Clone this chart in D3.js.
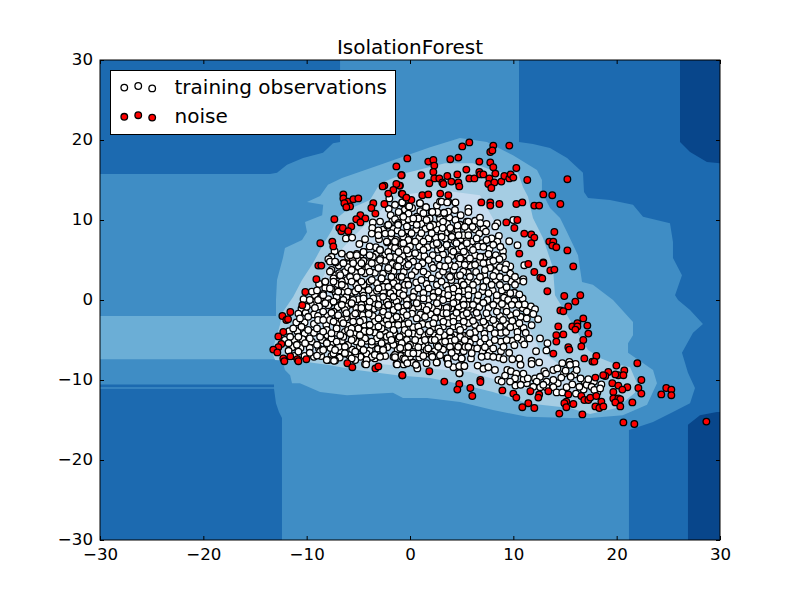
<!DOCTYPE html>
<html><head><meta charset="utf-8">
<script src="https://cdn.jsdelivr.net/npm/d3@7"></script>
<style>html,body{margin:0;padding:0;background:#fff}text{font-family:"DejaVu Sans",sans-serif}</style>
</head><body><svg id="c" width="800" height="600"></svg>
<script>
const titleText="IsolationForest";
const legendLabels=["training observations","noise"];
const xTicks=[-30,-20,-10,0,10,20,30];
const yTicks=[-30,-20,-10,0,10,20,30];
const levelColors=["#3f8dc5","#1c6ab0","#08468b","#6baed6","#a5cde3","#c6dcef"];

const levelTwoTopLeft=[[-30,30],[-6.77,30],[-6.77,19.75],[-7.45,19.6],[-8.42,18.4],[-10.35,17.75],[-11.9,16.9],[-12.87,15.9],[-13.55,15.75],[-30,15.75]];
const levelTwoRight=[[10.55,30],[10.55,19.75],[11.9,19.5],[13.55,19],[15.2,17.75],[16.74,15.9],[16.84,13.5],[17.23,12.75],[19.35,12.5],[21.58,11.9],[22.55,10.4],[25.16,9.6],[25.45,7.25],[25.45,5.25],[26.32,3.1],[25.65,.6],[25.94,0],[27.1,-1.25],[28.35,-3],[27.39,-4.1],[26.32,-6.6],[26.9,-9.1],[27.58,-11],[27.1,-12.9],[25.45,-14],[23.52,-15.25],[21.19,-16.25],[21.19,-30],[30,-30],[30,30]];
const levelTwoBottomLeft=[[-30,-11.1],[-13.16,-11.1],[-12.97,-12.9],[-12.68,-14],[-12.39,-14.75],[-12.39,-30],[-30,-30]];
const levelTwoStrip=[[-30,-10.55],[-13.16,-10.55],[-13.16,-10.9],[-30,-10.9]];
const levelOneTop=[[26.13,30],[26.13,19.75],[27.1,18.5],[28.74,17.25],[30,17.1],[30,30]];
const levelOneBottom=[[26.9,-30],[26.9,-15.6],[28.06,-14.4],[29.7,-14],[30,-14],[30,-30]];
const levelFour=[[-30,-2],[-12.97,-2],[-12.97,0],[-12.87,2.5],[-12.3,5.25],[-12.1,6.5],[-10.45,7.5],[-9.97,8.5],[-10.16,9.75],[-8.5,10.6],[-8.4,11.9],[-9.97,12.25],[-8.7,13],[-7.94,14.4],[-6.58,15.25],[-3.58,16.6],[-.68,17.9],[1.94,19.1],[4.84,20.25],[7.45,19.75],[9.97,18.1],[12.29,16.25],[12.77,15],[12.77,13.5],[13.55,11.5],[14.52,10.25],[15.19,8.5],[16.26,5.6],[16.65,2.25],[17.7,1.9],[19.65,0],[21.58,-2.75],[21.58,-4.4],[21.1,-5.4],[21.1,-6.6],[23.52,-8.75],[23.9,-10.4],[22.94,-13.1],[20.6,-14.4],[17.4,-14.75],[15.48,-14.75],[11.32,-14.6],[8.03,-13.75],[4.84,-12.75],[1.65,-12.25],[-.68,-12.25],[-1.65,-11.6],[-6.1,-11.9],[-8.7,-11.5],[-10.65,-10.4],[-11.42,-10.4],[-11.6,-9.4],[-12.1,-8.75],[-12.39,-7.4],[-30,-7.4]];
const levelFive=[[-13.35,-6.5],[-12.58,-3.1],[-12.3,-1.5],[-11.3,.4],[-10.45,2.5],[-9.39,4.6],[-8.42,6.9],[-7.55,8.75],[-7.06,10.25],[-6.1,11.25],[-3.87,12.5],[-2.9,14.6],[-.29,15.9],[3.39,17.1],[6.1,17.1],[8.42,16],[10.45,15.9],[10.94,14.1],[11.42,12.9],[11.9,10.25],[12.87,7.75],[13.84,4],[14.03,.6],[15.48,-2.5],[17.23,-6.25],[18.39,-7.25],[19.65,-7.9],[21.3,-8.4],[21.97,-10.4],[21.77,-11.6],[20,-13.5],[17.42,-14.25],[15.48,-13.5],[11.32,-12.9],[8.03,-11.5],[4.84,-10.5],[1.94,-9.75],[-1.26,-9.4],[-5.13,-8.75],[-8.03,-8.1],[-9.97,-7.75],[-13.06,-7.5]];
const levelSix=[[-12.1,-5.6],[-11.13,-2.5],[-9.19,.6],[-7.74,4.75],[-5.8,7.5],[-3.39,10.6],[-.97,13.1],[2.9,13.75],[6.77,13.1],[9.19,7.5],[9.68,1.25],[12.58,-6.25],[16.45,-10],[15.97,-11.9],[11.61,-11.25],[5.81,-9],[-.97,-8.25],[-8.71,-7.25]];

const trainingLeft=[[-2,12.7],[-.74,12.2],[-1.45,11.9],[-.16,11.75],[-2.06,11.4],[-1.87,10.6],[-.65,10.5],[-3.6,9.7],[-2.2,9.3],[-1.45,10.1],[-1.13,9.6],[-.16,10.1],[-3.65,9],[-3.06,8.7],[-3.7,8.3],[-3.06,8.1],[-2.4,8.3],[-1.8,7.9],[-1.2,8.7],[-.65,7.9],[-1.35,7.5],[-2.2,7.2],[-.8,7],[-.16,7.5],[-6.2,7.7],[-5.6,7.8],[-4.35,7.6],[-4.9,7],[-3.9,6.7],[-1.45,6.5],[-2.9,6.3],[-2.1,6],[-.65,6.3],[-7.3,6.1],[-7.6,5.4],[-7.9,5.1],[-5.75,5.6],[-5.15,5.75],[-4.5,6],[-6,5.4],[-3.6,5.4],[-2.85,5.2],[-1.45,5.4],[-.15,5.8],[-7.2,4.7],[-6.45,4.6],[-5.55,4.9],[-4.5,4.9],[-2.4,4.9],[-1,5],[-7.6,3.75],[-6.85,3.35],[-6,4.1],[-5,4.2],[-4.05,4.1],[-3.3,4.5],[-2.1,3.75],[-1.3,4.25],[-.3,4.2],[-8.2,2.3],[-7.4,2.7],[-6.6,2.3],[-5.8,2.9],[-5.15,2.85],[-4.35,3.35],[-3.4,3.4],[-2.75,2.7],[-1,2.9],[-7.6,1.35],[-6.3,1.65],[-5.3,1.05],[-4.5,1.9],[-3.9,2.3],[-2.6,1.65],[-1.6,2.1],[-.5,1.9],[-9.5,1.05],[-9,1.2],[-8.4,.75],[-7.1,.4],[-6.15,.4],[-4.5,.55],[-3.2,1.15],[-1.9,.85],[-1,.85],[-9.7,0],[-8.9,0],[-7.75,-.4],[-6.6,-.4],[-5.65,-.5],[-4.7,-.6],[-3.4,-.4],[-2.25,-.2],[-1.3,-.2],[-.3,0],[-10,-.85],[-9.2,-1],[-8.4,-1.45],[-7.4,-1.45],[-6.3,-1.25],[-5.15,-1.65],[-4,-1.45],[-2.6,-1.45],[-1.6,-1.25],[-.65,-1.45],[-10.8,-1.7],[-10.65,-2.3],[-9.85,-2.1],[-8.9,-2.5],[-7.75,-2.5],[-6.6,-2.5],[-5.5,-2.7],[-4.5,-2.5],[-3.4,-2.7],[-2.25,-2.5],[-1.1,-2.5],[-11.3,-3.55],[-10.5,-3.35],[-9.85,-3.75],[-9,-3.55],[-8.05,-3.75],[-7.1,-3.55],[-6,-3.75],[-5,-3.55],[-3.9,-3.95],[-2.75,-3.55],[-1.6,-3.75],[-.5,-3.75],[-11.6,-4.6],[-10.8,-4.6],[-9.7,-4.8],[-8.7,-4.6],[-7.6,-4.8],[-6.45,-4.6],[-5.5,-4.8],[-4.35,-4.8],[-3.2,-4.8],[-2.25,-4.6],[-1.1,-4.8],[-11.75,-5.4],[-10.95,-5.6],[-10.15,-5.4],[-9,-5.6],[-8.05,-5.4],[-6.9,-5.85],[-6,-5.6],[-4.85,-5.85],[-3.7,-5.6],[-2.6,-6],[-1.6,-5.6],[-.5,-5.85],[-11.75,-6.35],[-10.8,-6.45],[-9.7,-6.6],[-8.7,-6.45],[-7.4,-6.7],[-6.3,-6.7],[-5.3,-6.9],[-4.2,-6.7],[-3.05,-6.9],[-1.6,-7.1],[-.65,-7.3],[-9,-6.95],[-7.9,-7.5],[-7.25,-7.55],[-5.3,-7.5],[-4.2,-7.5],[-4.35,-8],[-3.7,-7.1],[-1.3,-8],[-.6,-8.05]];
const trainingCoreUpper=[[-7.75,4.8],[-7.25,4.8],[-6.45,4.6],[-5.8,5.6],[-5.15,5.6],[-4.5,6],[-3.9,5.6],[-2.9,6.25],[-5.5,4.6],[-4.7,4.6],[-3.7,4.6],[-2.9,5],[-1.95,5.4],[-1.1,6],[-.3,6.25],[.5,5.85],[1.3,6.25],[2.25,6.9],[3.05,6.45],[4,6.25],[5,6.65],[-2.25,7.3],[-1.45,7.3],[-.65,7.1],[.5,7.3],[1.3,7.3],[2.75,6.9],[3.4,7.7],[4.35,7.3],[5.5,7.5],[-2.1,9.4],[-1.15,9.4],[-.3,9.2],[.65,9.4],[1.6,10],[2.25,9.4],[3.2,9.8],[4,8.75],[4.85,9.4],[5.5,9.8],[-1.8,8.35],[-.8,8.35],[.15,8.35],[1.1,8.35],[2.1,8.35],[3.05,8.35],[4.2,8.1],[5.15,8.1],[-1.1,11],[-.15,10.8],[.65,10.4],[1.55,11.6],[2.1,11],[2.75,10.8],[3.4,10.8],[4.35,11.25],[2.9,12.3],[3.7,12.3],[.95,12.1],[-.7,12.1],[-7.75,3.55],[-6.75,3.1],[-5.65,3.75],[-4.7,3.55],[-3.9,3.55],[-3.05,4],[-2.1,4],[-1.15,4.2],[-.15,4.4],[.8,4.2],[1.8,5],[2.75,5.2],[3.7,5],[4.7,5.4],[5.5,4.8],[1.3,3.55],[2.25,4],[3.2,3.55],[4.2,3.75],[5.15,3.55],[-8.2,2.3],[-7.4,2.3],[-6.6,1.9],[-5.65,2.3],[-4.7,2.3],[-3.7,2.5],[-2.75,2.7],[-1.8,2.9],[-.8,2.9],[.15,3.1],[1.1,2.5],[2.1,2.7],[3.05,2.3],[4,2.5],[5,2.3],[-7.75,1.45],[-6.95,1.05],[-6,1.05],[-5,1.45],[-4,1.25],[-3.05,1.45],[-2.1,1.65],[-1.15,1.65],[-.15,1.9],[.8,1.45],[1.8,1.45],[2.75,1.05],[3.7,1.25],[4.7,1.05],[5.65,1.25],[-8.4,.6],[-7.4,-.2],[-6.45,0],[-5.5,0],[-4.5,.2],[-3.55,.2],[-2.6,.4],[-1.6,.4],[-.65,.6],[.3,.4],[1.3,.2],[2.25,.4],[3.2,0],[4.2,.2],[5.15,0],[-7.9,-.65],[-4,-.85],[-3.05,-.85],[-2.1,-.65],[-1.15,-.85],[-.15,-.65],[.8,-.85],[1.8,-.75],[2.75,-.85],[3.7,-.9],[4.7,-.85],[5.65,-.9]];
const trainingCoreLower=[[-8.2,-.4],[-7.4,-.2],[-6.6,-.6],[-5.65,-.4],[-4.7,-1],[-3.9,-.2],[-3.05,-.6],[-2.1,-.6],[-1.15,-.85],[-.3,-.6],[.65,-.4],[1.6,-1.25],[2.6,-.4],[3.55,-1],[4.5,-.2],[5.5,-.6],[-7.6,-1.6],[-6.95,-1.9],[-6.15,-1.65],[-5.3,-1.7],[-4,-1.75],[-3.05,-2.3],[-2.1,-1.9],[-1.3,-2.1],[-.3,-1.9],[.65,-2.3],[1.45,-2.1],[2.4,-2.3],[3.2,-1.65],[4.2,-2.1],[5.15,-1.9],[-8.4,-2.5],[-7.4,-2.7],[-6.45,-2.9],[-5.65,-3.55],[-4.85,-2.7],[-3.9,-3.1],[-3.05,-3.3],[-2.1,-3.1],[-1.15,-3.1],[-.15,-2.9],[.8,-3.3],[1.8,-3.1],[2.75,-3.55],[3.7,-2.9],[4.7,-3.3],[5.65,-2.9],[-8.4,-3.95],[-7.6,-4.15],[-6.75,-4.4],[-5.8,-4.15],[-4.85,-4.4],[-3.9,-3.95],[-2.9,-4.4],[-1.95,-4.4],[-1,-4.6],[-.15,-4.15],[.8,-4.4],[1.8,-4.15],[2.75,-4.6],[3.9,-4.8],[4.85,-4.6],[5.65,-4.4],[-8.05,-5.4],[-7.1,-5.2],[-6.3,-5.85],[-5.65,-5],[-4.7,-5.4],[-3.7,-5.2],[-2.75,-5.4],[-1.8,-5],[-.8,-5.4],[0,-5.6],[1,-5.2],[2.1,-5],[2.6,-5.6],[3.9,-5.2],[4.85,-5.6],[5.35,-5.85],[-8.4,-6.25],[-7.25,-6.25],[-6.3,-6.65],[-5.3,-6.45],[-4.5,-6.25],[-3.4,-6.85],[-2.6,-6.25],[-1.45,-6.85],[-.95,-6],[-.15,-6.65],[.8,-6.65],[1.6,-6.25],[2.1,-6.85],[4,-6.45],[5,-7.3],[-8.05,-7.5],[-7.35,-7.6],[-5.65,-7.3],[-4.2,-7.5],[-4.25,-8.05],[-2.9,-7.1],[-1.45,-7.15],[-1.25,-8.05],[-.5,-7.5],[.3,-7.85],[.65,-8.2],[1.6,-7.9],[2.6,-7.8],[3.55,-7.3],[3.7,-7.9],[4.2,-8.4],[4.8,-9.15],[5.25,-8.25]];
const trainingRight=[[-.75,12.2],[-.07,11.7],[.97,12.1],[1.55,11.6],[3.06,12.3],[3.6,12.2],[4.4,12.2],[3.7,11.05],[3.3,10.9],[2.64,11],[5.65,11.45],[5.65,11],[2.16,11],[1.3,10.85],[.8,10.2],[.32,10.2],[-.65,10.4],[6.77,10.3],[5.65,9.8],[10,10],[8.45,9.6],[8.25,9.2],[6.8,9.6],[4.6,9.3],[5.3,9.15],[6.05,9.15],[3.16,9],[3.9,9],[1.93,9.2],[7.35,8.55],[6.7,8.3],[5.65,8.1],[4.7,8.1],[4.05,7.9],[3.06,7.9],[8.45,7.3],[7.4,7.5],[6.45,7.7],[5.5,7.1],[4.5,7.1],[3.55,6.9],[2.6,7.1],[8.74,6.65],[8.06,6.9],[9.6,7.35],[10.4,6.85],[7.1,6.65],[6.1,6.25],[5.2,6.05],[4.2,6.05],[7.6,5.75],[6.8,5.4],[5.8,5.2],[4.85,5.2],[8.65,5.1],[8.06,4.9],[9.3,4.45],[11.06,4.35],[7.1,4.6],[6.3,4.4],[5.3,4.4],[4.35,4.2],[3.4,4.2],[8.7,4.1],[9.2,3.85],[7.75,4],[7.25,3.75],[10.16,2.9],[10.97,2.6],[10.97,2.3],[8.7,2.9],[9.3,2.7],[8.06,3],[6.77,2.9],[5.8,2.9],[4.85,3.1],[3.87,2.9],[10.16,1.9],[9.35,1.6],[8.7,1.9],[7.9,1.9],[7.1,1.65],[6.1,1.9],[5.2,1.9],[4.2,1.45],[10.58,.7],[9.7,.85],[8.4,.6],[7.6,.85],[6.6,.6],[5.65,.6],[4.7,.4],[3.7,.6],[11.1,-.55],[10.5,-.6],[9.5,0],[9.85,-.6],[8.9,-.5],[8.06,-.6],[7.1,-.35],[6.1,-.6],[5.2,-.6],[4.2,-.4],[12.1,-1.15],[11.3,-1.45],[11.93,-1.75],[12.4,-2.4],[10.3,-1.65],[9.35,-1.45],[8.4,-1.45],[7.4,-1.65],[6.45,-1.6],[5.5,-1.65],[4.5,-1.6],[3.55,-1.65],[2.6,-1.45],[11.77,-3.15],[9.9,-2.6],[10.58,-2.9],[9,-2.5],[8.06,-2.5],[7.1,-2.7],[6.1,-2.6],[5.2,-2.7],[4.2,-2.7],[3.23,-2.7],[2.26,-2.9],[9.7,-3.4],[8.7,-3.35],[7.75,-3.55],[6.77,-3.55],[5.8,-4.15],[4.85,-3.75],[3.87,-3.95],[2.9,-3.95],[1.93,-3.95],[.97,-3.95],[11.55,-4.8],[12.58,-4.8],[10.4,-4.7],[9.35,-5],[8.2,-4.15],[8.2,-5],[7.25,-4.8],[6.3,-4.8],[5.3,-5],[4.35,-5],[3.4,-5.2],[2.4,-5],[1.45,-5],[.5,-5],[13.3,-5.4],[11.06,-5.55],[10.1,-5.65],[9.05,-5.85],[8.06,-6.05],[7.25,-5.9],[6.5,-6.05],[5.65,-5.85],[4.67,-5.85],[3.87,-5.85],[2.74,-5.85],[1.77,-6.05],[.8,-5.9],[-.16,-5.85],[12.2,-6.4],[13.2,-6.3],[8.06,-7.1],[9.05,-7.4],[9.9,-7.4],[10.58,-7.3],[10.7,-8.1],[11.77,-7.6],[11.77,-8],[12.5,-7.8],[6.93,-7.1],[5.97,-6.65],[5,-7.3],[4.03,-6.6],[3.64,-7.3],[2.58,-7.8],[2.16,-7.1],[1.29,-7],[.32,-6.67],[-.49,-7.4],[3.7,-8],[4.77,-8.25],[5.26,-8.25],[4.77,-9.15],[6.55,-8.2],[7.1,-8.6],[7.58,-8.4],[8.22,-8.75],[.71,-8.55],[.58,-8.1],[-.26,-7.9],[9.42,-8.75],[9.77,-8.9],[9.2,-9.45],[8.55,-10],[8.87,-10.2],[10.29,-9.2],[10.97,-9.2],[11.4,-9.8],[12.1,-9.8],[12.58,-9.6],[13.16,-9.2],[13.87,-8.75],[14.26,-8.55],[14.74,-7.9],[15.42,-7.75],[16.03,-8],[15.48,-8.1],[16.13,-8.75],[15.06,-8.83],[16.51,-9.8],[15.55,-9.6],[14.64,-9.7],[13.87,-10],[13.22,-10.2],[12.26,-10.2],[11.93,-10.85],[10.71,-10.6],[10.16,-9.8],[9.68,-10.2],[12.9,-10.6],[13.87,-10.9],[14.19,-11.55],[14.74,-11.55],[15.16,-10.9],[15.71,-10.55],[16.06,-11.7],[17.1,-10.6],[17.26,-9.9],[16.39,-10.85],[17.58,-10.85],[18.13,-11.55],[18.52,-10.55],[17.84,-11.25],[18.4,-11.05]];
const trainingFill=[[-.5,11.3],[.2,11.5],[1,11.1],[2.6,11.8],[4.9,10.6],[3.8,10.3],[2.9,10.2],[1.3,10.3],[-1.1,10.4],[-2.9,9.8],[-1.7,9.9],[-.7,9.8],[.2,9.7],[1.1,9.5],[1.9,10.2],[2.8,9.4],[3.6,9.5],[4.4,10],[6.3,9.9],[7.4,9.5],[-2.6,8.8],[-1.6,8.9],[-.2,8.7],[.6,8.8],[1.5,8.9],[2.6,8.8],[3.5,8.4],[4.6,8.7],[5.6,8.6],[6.3,8.8],[7.1,8.9],[-3,7.6],[-.1,7.8],[.9,7.8],[1.8,7.7],[2.5,7.8],[3.9,7.6],[4.9,7.6],[6,7.3],[7,7.1],[7.9,7.7],[8.6,8],[-3.3,6.6],[-1.8,6.6],[-.9,6.7],[0,6.7],[.9,6.7],[1.7,6.6],[2.7,6.3],[3.6,6.7],[4.7,6.4],[5.8,6.6],[6.6,6.7],[7.7,6.4],[9,6.1],[-6.6,5.8],[-4.8,5.3],[-3.3,5.7],[-2.4,5.6],[-.7,5.5],[0,5.3],[.9,5.5],[1.4,5.5],[2.2,5.6],[3.2,5.7],[4,5.5],[5.4,5.7],[6.3,5.6],[7.2,5.4],[8.3,5.6],[9,5.4],[-6.9,4.3],[-5.9,4.5],[-5,5],[-4,4.6],[-3,4.4],[-1.7,4.5],[-.7,4.7],[.3,4.8],[1.2,4.6],[2.1,4.4],[2.9,4.3],[3.9,4.4],[4.7,4.5],[5.8,4.3],[6.7,4.7],[7.7,4.7],[8.3,4.5],[9.7,4.2],[-7.2,3.1],[-6.3,3.5],[-5.3,3.4],[-4.3,3.8],[-2.6,3.3],[-1.6,3.6],[-.6,3.5],[.5,3.6],[1.7,3.2],[2.8,3.1],[3.7,3.1],[4.6,3],[5.6,3.4],[6.4,3.5],[7.2,3.1],[8.3,3.5],[9.7,3.3],[-8.8,2],[-7,2],[-6.1,2.5],[-5.2,1.9],[-4.2,1.7],[-3.2,2.1],[-2.3,2.2],[-1.3,2.4],[-.3,2.4],[.6,2.2],[1.6,2],[2.6,1.9],[3.5,1.8],[4.5,1.7],[5.6,2.3],[6.5,2.3],[7.4,2.4],[8.3,2.5],[9.8,2.3],[10.4,2.4],[-9.2,.6],[-8.2,1.5],[-7.2,.9],[-6.4,1],[-5.6,.9],[-4.6,1],[-3.6,.8],[-2.6,1],[-1.6,1.1],[-.6,1.2],[.4,1],[1.3,.9],[2.3,.9],[3.3,.8],[4.2,.8],[5.2,1.1],[6.1,1.2],[7,1.1],[8,1.2],[8.9,1.2],[9.3,.5],[10.1,.9],[-10.3,.1],[-9.3,-.3],[-8.7,.2],[-7.9,.1],[-7,.1],[-6,-.2],[-5,.1],[-4.1,-.2],[-3.1,.1],[-2.1,.1],[-1.1,.1],[-.1,.2],[.8,.1],[1.8,.1],[2.8,.1],[3.7,.2],[4.7,-.3],[5.6,.1],[6.5,0],[7.5,0],[8.4,0],[9.1,.3],[10.1,-.1],[10.9,.2],[-10.5,-1.1],[-9.6,-.5],[-8.8,-.8],[-7,-.9],[-6.1,-.8],[-5.2,-1],[-4.4,-.3],[-3.5,-1.1],[-2.6,-1],[-1.6,-.7],[-.7,-1],[.3,-1.1],[1.2,-.8],[2.2,-1],[3.1,-1.1],[4,-1],[5,-1.1],[5.9,-1.1],[6.7,-.9],[7.6,-1],[8.5,-.9],[9.3,-.9],[10.9,-1],[11.7,-.8],[-10.1,-1.6],[-9.3,-1.8],[-8.9,-2],[-8,-2],[-7,-2.3],[-6.2,-2.2],[-5.5,-2],[-4.6,-1.9],[-3.6,-2],[-2.7,-1.9],[-1.8,-2.4],[-.8,-2.2],[.2,-1.7],[1,-1.8],[2,-1.8],[3,-2.2],[3.7,-2.3],[4.7,-2.2],[5.7,-2.1],[6.6,-2.1],[7.6,-2.2],[8.7,-2],[9.7,-1.9],[10.7,-2.1],[11.3,-2.3],[-11,-2.8],[-10.2,-2.8],[-9.3,-3],[-8.1,-3.1],[-7.1,-3],[-6,-3.2],[-5.2,-3.3],[-4.4,-3.1],[-3.5,-3.3],[-2.6,-3],[-1.6,-3.2],[-.6,-3.1],[.3,-3.4],[1.2,-3],[2.3,-3.4],[3.2,-3.3],[4.2,-3.3],[5.2,-3.3],[6.3,-3.1],[7.3,-3.1],[8.3,-3],[9.3,-3],[10.2,-3.3],[11,-3.5],[-11.7,-3.9],[-10.9,-3.9],[-10.2,-4.2],[-9.3,-4.1],[-8,-4.4],[-7.1,-4.1],[-6.3,-4],[-5.4,-4.2],[-4.4,-3.9],[-3.4,-4.1],[-2.4,-4.1],[-1.5,-4.1],[-.6,-4.2],[.3,-4.2],[1.3,-4.4],[2.3,-4.4],[3.3,-4.4],[4.3,-4.4],[5.3,-4.5],[6.3,-4],[7.2,-4.2],[8.8,-4.1],[9.3,-4],[10.4,-4],[11.2,-4.1],[-12.1,-5],[-11.2,-5],[-10.4,-4.9],[-9.5,-5.2],[-8.5,-5],[-7.6,-5.5],[-6.6,-5.1],[-5.2,-5.2],[-4.2,-5.1],[-3.3,-5.1],[-2.3,-5],[-1.3,-5.1],[-.3,-5],[.7,-4.9],[1.5,-5.5],[3,-5.3],[4,-4.6],[4.4,-5.5],[5.8,-5.3],[6.8,-5.3],[7.7,-5.4],[8.8,-5.2],[9.9,-5.1],[10.8,-5],[-11.4,-5.9],[-10.6,-6],[-9.7,-6],[-8.8,-6.1],[-7.7,-6],[-6.8,-6.3],[-5.6,-6.2],[-4.6,-6.2],[-3.9,-6.3],[-3.1,-6.1],[-2.2,-5.9],[-1.2,-6.2],[-.5,-6.2],[.4,-5.7],[1.2,-5.8],[2.4,-6.4],[3.2,-6.2],[4.5,-6.4],[5.2,-6.4],[6.1,-6.1],[7,-6.4],[7.7,-6.5],[8.8,-6.4],[9.6,-6.6],[-11.2,-7],[-10.2,-7],[-9.3,-7.1],[-8.6,-7],[-7.6,-7],[-6.8,-7.2],[-5.9,-6.9],[-4.8,-7.1],[-3.4,-7.3],[-2.4,-7],[-.9,-7],[0,-7.1],[.9,-7.2],[1.8,-6.7],[2.9,-6.9],[4.4,-7.1],[5.9,-7.3],[7.5,-7],[8.6,-7.2],[13,-8.9],[14.9,-9.2],[15.9,-9.3],[16.9,-10.2],[14.3,-10.4],[13.2,-10.9],[12.6,-10.9],[11.3,-10.4],[10.2,-10.7],[11,-9.9],[17.8,-10.2],[16.8,-11.2]];
const noiseRight=[[-.26,17.7],[5.06,19.2],[5.74,19.7],[8.06,19.3],[9.61,19.3],[7.77,18.5],[7.97,18.7],[1.77,17.3],[2.26,17.5],[2.35,16.8],[3.9,17.6],[4.68,17.8],[6.71,17.3],[7.77,17.2],[8.06,16.6],[10.29,16.5],[5.45,16.3],[2.26,16],[1.1,15.6],[-.81,15.6],[2.35,15.2],[2.84,15.2],[3.61,15.5],[4.58,15.7],[4,14.8],[3.13,14.7],[3.23,14.5],[4.68,14.7],[4.77,14.2],[1.87,14.6],[5.74,15.2],[6.23,15.2],[6.71,16],[6.8,15.7],[7.1,15.7],[8.26,15.8],[7.68,15.2],[7.58,14.5],[8.16,14.7],[8.84,14.8],[9.13,15.5],[9.61,15.2],[9.74,15.7],[10,15.3],[7.87,14],[11.35,15],[15.23,15.1],[-.97,14.3],[-.8,13.3],[-.39,12.8],[.13,12.5],[1.19,13.1],[1.77,13.2],[2.93,13.3],[3.71,13.1],[12.9,13.2],[13.77,13.1],[6.9,12.2],[7.77,12.2],[7.77,11.8],[8.65,12],[10.29,12],[10.87,12.2],[12.03,11.8],[12.5,11.8],[14.55,12],[9.32,9.7],[10.39,10],[10.1,9],[11.06,8.3],[11.74,8.2],[12.03,7.8],[13.97,8.5],[11.74,7.1],[13.48,7.3],[13.87,7.3],[13.77,6.8],[14.16,6.6],[15.23,6.2],[10.58,5.8],[11.45,4.5],[12.9,4.7],[12.9,4.6],[15.8,4.2],[12.03,3.5],[12.61,2.8],[12.8,2.7],[13.58,3.7],[13.97,3.8],[13.29,1.1],[14.93,.5],[16.48,.6],[16,-.2],[15.32,-.8],[14.55,-1.3],[14.84,-1.4],[16.77,-2.3],[14.35,-3.3],[15.71,-3.3],[16.2,-2.9],[16.2,-3.3],[16,-3.7],[17.16,-3.2],[17.26,-4.2],[14.16,-4.4],[14.84,-4.3],[14.16,-5.2],[16.77,-5],[15.32,-5.9],[15.42,-6.2],[16.58,-5.8],[13.87,-6.7],[16.87,-7.3],[18.03,-7],[17.65,-7.7],[17.84,-7.7],[22,-7.9],[19.97,-8.2],[19.19,-9],[20.74,-8.8],[20.16,-9.4],[20.65,-9.4],[19.87,-9.3],[18.9,-9.5],[18.7,-9.4],[17.94,-9.7],[22.39,-10],[19.58,-10.4],[20.16,-10.7],[21.03,-10.9],[20.55,-11.2],[22.1,-11],[22.39,-11.7],[19.68,-11.5],[24.8,-11],[25.29,-11.2],[25.29,-11.9],[24.32,-11.8],[19.68,-12.3],[20.16,-12.3],[20.35,-12.4],[19.87,-12.8],[20.35,-13.3],[21.52,-12.8],[15.32,-11.8],[16.58,-12],[16.87,-12.5],[17.26,-12.5],[17.45,-12.2],[18.03,-12],[18.52,-12.7],[17.94,-13.3],[18.32,-13.5],[18.71,-13.3],[15.13,-12.7],[14.94,-12.9],[15.81,-13],[15.13,-13.4],[14.45,-14.2],[16.68,-14.3],[20.65,-15.3],[21.71,-15.5],[28.68,-15.2],[3.32,-10.2],[4.77,-10.5],[4.58,-11.2],[5.84,-11],[6.03,-12],[6.81,-10],[6.81,-10.25],[1.87,-8.9],[-.74,-9.4],[8.94,-11.3],[10,-11.7],[10.29,-12.2],[11.65,-11.4],[12.5,-11.8],[12.42,-12.2],[13.39,-11.4],[11.45,-12.9],[10.87,-13.4],[12.03,-13.5]];
const noiseLeft=[[-1.32,16.7],[-.84,15.6],[-2.48,14.3],[-2.65,14.2],[-1.03,14.3],[-1.32,14.5],[-1.61,13.75],[-2.1,13.3],[-.74,13.25],[-.35,12.8],[-6.45,13.2],[-6.45,12.7],[-6,12.3],[-5.48,12.6],[-5,12.7],[-6.35,12.1],[-5.8,11.7],[-6.16,11.6],[-3.55,12.1],[-2.48,12],[-3.74,11.5],[-3.35,10.8],[-7.32,10.1],[-4.8,10.6],[-5.2,10.1],[-4.32,10.2],[-4.8,9.7],[-5.68,9.2],[-6.84,9],[-6.65,8.6],[-6.5,9],[-5.97,8.6],[-8.68,7.1],[-7.52,7.3],[-7.42,6.7],[-8.87,4.3],[-8.58,4.3],[-9.06,2.6],[-10.13,1],[-10.42,-.65],[-11.58,-1.5],[-12.35,-2],[-11.97,-2.5],[-11.8,-2.4],[-12.26,-4],[-12.74,-4.55],[-12.45,-5.5],[-12.74,-5.9],[-13.23,-6.2],[-12.84,-6.55],[-12.26,-7.3],[-12.16,-7.65],[-11.58,-7.05],[-10.9,-7.4],[-10.8,-7.65],[-10.03,-7.4],[-6.06,-7.9],[-5.58,-8.4],[-3.35,-8.55],[-3.06,-8.3],[-.74,-9.4]];
const legendTrainX=[-27.65,-26.3,-24.95],legendTrainY=[26.55,26.75,26.45];
const legendNoiseX=[-27.65,-26.3,-24.95],legendNoiseY=[22.9,23.1,22.8];

const W=800,H=600,L=100,R=720,T=60,B=540;
const x=d3.scaleLinear().domain([-30,30]).range([L,R]);
const y=d3.scaleLinear().domain([-30,30]).range([B,T]);
const svg=d3.select("#c");
const clip=svg.append("defs").append("clipPath").attr("id","pl");
clip.append("rect").attr("x",L).attr("y",T).attr("width",R-L).attr("height",B-T);
const plot=svg.append("g").attr("clip-path","url(#pl)");
plot.append("rect").attr("x",x(-30)).attr("y",y(30)).attr("width",x(30)-x(-30)).attr("height",y(-30)-y(30)).attr("fill",levelColors[0]);
const line=d3.line().x(d=>x(d[0])).y(d=>y(d[1])).curve(d3.curveLinearClosed);
const regions=[[levelTwoTopLeft,1],[levelTwoRight,1],[levelTwoBottomLeft,1],[levelTwoStrip,1],[levelOneTop,2],[levelOneBottom,2],[levelFour,3],[levelFive,4],[levelSix,5]];
plot.selectAll("path.r").data(regions).join("path").attr("class","r").attr("d",d=>line(d[0])).attr("fill",d=>levelColors[d[1]]);
const training=[...trainingFill,...trainingLeft,...trainingCoreUpper,...trainingCoreLower,...trainingRight];
const noise=[...noiseRight,...noiseLeft];
const dot=(g,data,fill)=>g.selectAll(null).data(data).join("circle").attr("cx",d=>x(d[0])).attr("cy",d=>y(d[1])).attr("r",3.3).attr("fill",fill).attr("stroke","#000").attr("stroke-width",1.3);
dot(plot.append("g"),training,"#fff");
dot(plot.append("g"),noise,"#f00");

const ax=(gen,t)=>{const g=svg.append("g").attr("transform",t).call(gen);g.select(".domain").remove();g.selectAll("line").attr("stroke","#000").attr("stroke-width",1);g.selectAll("text").attr("fill","#000").style("font-size","16.67px").style("font-family",'"DejaVu Sans"');return g;};
ax(d3.axisBottom(x).tickValues(xTicks).tickSize(-4).tickPadding(8),`translate(0,${B})`);
ax(d3.axisTop(x).tickValues(xTicks).tickSize(-4).tickFormat(""),`translate(0,${T})`);
ax(d3.axisLeft(y).tickValues(yTicks).tickSize(-4).tickPadding(7),`translate(${L},0)`).selectAll("text").attr("dy","0.27em");
ax(d3.axisRight(y).tickValues(yTicks).tickSize(-4).tickFormat(""),`translate(${R},0)`);
svg.append("rect").attr("x",L).attr("y",T).attr("width",R-L).attr("height",B-T).attr("fill","none").attr("stroke","#000").attr("stroke-width",1);
svg.append("text").attr("x",410).attr("y",54).attr("text-anchor","middle").style("font-size","20px").text(titleText);

const lg=svg.append("g");
lg.append("rect").attr("x",110.5).attr("y",70.5).attr("width",285).attr("height",64).attr("fill","#fff").attr("stroke","#000").attr("stroke-width",1);
dot(lg.append("g"),d3.zip(legendTrainX,legendTrainY),"#fff");
dot(lg.append("g"),d3.zip(legendNoiseX,legendNoiseY),"#f00");
lg.selectAll("text").data(legendLabels).join("text").attr("x",174.5).attr("y",(d,i)=>94+i*29).style("font-size","20px").text(d=>d);
</script></body></html>
